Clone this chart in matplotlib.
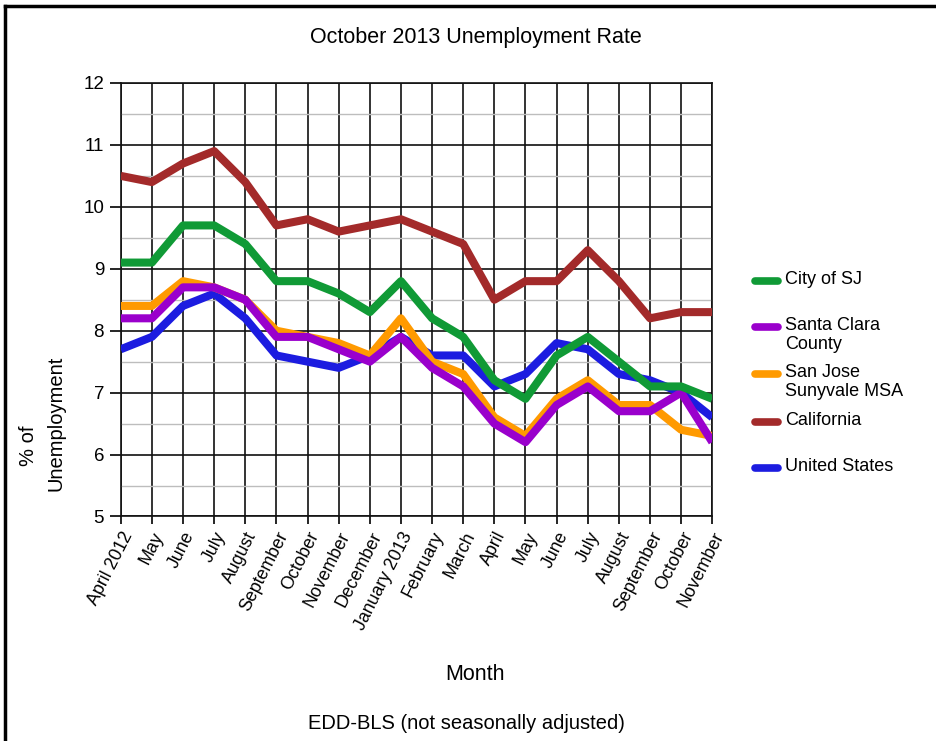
import matplotlib
matplotlib.use("Agg")
import matplotlib.pyplot as plt
from matplotlib.lines import Line2D
from matplotlib.ticker import MultipleLocator

plt.rcParams["font.family"] = ["Liberation Sans", "DejaVu Sans"]

months = ["April 2012", "May", "June", "July", "August", "September", "October",
          "November", "December", "January 2013", "February", "March", "April",
          "May", "June", "July", "August", "September", "October", "November"]

city_sj = [9.1, 9.1, 9.7, 9.7, 9.4, 8.8, 8.8, 8.6, 8.3, 8.8,
           8.2, 7.9, 7.2, 6.9, 7.6, 7.9, 7.5, 7.1, 7.1, 6.9]
santa_clara = [8.2, 8.2, 8.7, 8.7, 8.5, 7.9, 7.9, 7.7, 7.5, 7.9,
               7.4, 7.1, 6.5, 6.2, 6.8, 7.1, 6.7, 6.7, 7.0, 6.2]
sj_msa = [8.4, 8.4, 8.8, 8.7, 8.5, 8.0, 7.9, 7.8, 7.6, 8.2,
          7.5, 7.3, 6.6, 6.3, 6.9, 7.2, 6.8, 6.8, 6.4, 6.3]
california = [10.5, 10.4, 10.7, 10.9, 10.4, 9.7, 9.8, 9.6, 9.7, 9.8,
              9.6, 9.4, 8.5, 8.8, 8.8, 9.3, 8.8, 8.2, 8.3, 8.3]
us = [7.7, 7.9, 8.4, 8.6, 8.2, 7.6, 7.5, 7.4, 7.6, 7.9,
      7.6, 7.6, 7.1, 7.3, 7.8, 7.7, 7.3, 7.2, 7.0, 6.6]

series = [
    ("City of SJ", city_sj, "#109a36"),
    ("Santa Clara\nCounty", santa_clara, "#9a00cc"),
    ("San Jose\nSunyvale MSA", sj_msa, "#ff9a00"),
    ("California", california, "#a32a2a"),
    ("United States", us, "#1c1ce0"),
]
draw_order = [4, 3, 2, 1, 0]

fig = plt.figure(figsize=(9.36, 7.41), dpi=100)
ax = fig.add_axes([0.129, 0.303, 0.632, 0.585])

x = list(range(len(months)))
for rank, i in enumerate(draw_order):
    label, vals, color = series[i]
    ax.plot(x, vals, color=color, lw=5.8, solid_capstyle="butt", zorder=3 + rank)

ax.set_xlim(0, len(months) - 1)
ax.set_ylim(5, 12)
ax.yaxis.set_major_locator(MultipleLocator(1))
ax.yaxis.set_minor_locator(MultipleLocator(0.5))
ax.set_xticks(x)
ax.set_xticklabels(months, rotation=63, ha="right", rotation_mode="anchor", fontsize=12.8)
ax.tick_params(axis="y", which="major", labelsize=13.5, length=8, width=1.2, pad=4)
ax.tick_params(axis="y", which="minor", length=0)
ax.tick_params(axis="x", length=6, width=1.2, pad=3)
ax.grid(True, which="major", axis="both", color="#111111", lw=1.2, zorder=1)
ax.grid(True, which="minor", axis="y", color="#bdbdbd", lw=1.0, zorder=0.5)
for s in ax.spines.values():
    s.set_color("#111111")
    s.set_linewidth(1.2)

fig.text(0.508, 0.949, "October 2013 Unemployment Rate", ha="center", va="center", fontsize=15.5)
fig.text(0.508, 0.09, "Month", ha="center", va="center", fontsize=15.5)
fig.text(0.498, 0.024, "EDD-BLS (not seasonally adjusted)", ha="center", va="center", fontsize=14.5)
fig.text(29 / 936, 1 - 446 / 741, "% of", rotation=90, ha="center", va="center", fontsize=14.5)
fig.text(56 / 936, 1 - 423 / 741, "Unemployment", rotation=90, ha="center", va="center", fontsize=14.5)

# legend drawn by hand so the swatch lines up with the first text line
leg_y = [281, 327, 374, 422, 468]
for (label, vals, color), yy in zip(series, leg_y):
    yf = 1 - yy / 741
    fig.add_artist(Line2D([755 / 936, 778 / 936], [yf, yf], color=color, lw=5.5,
                          solid_capstyle="round", transform=fig.transFigure))
    fig.text(785 / 936, yf + 0.013, label, ha="left", va="top", fontsize=13, linespacing=1.15)

# frame lines at top and left of the screenshot
fig.add_artist(Line2D([5 / 936, 1], [1 - 6 / 741, 1 - 6 / 741], color="black", lw=2.5,
                      transform=fig.transFigure))
fig.add_artist(Line2D([5 / 936, 5 / 936], [0, 1 - 6 / 741], color="black", lw=2.5,
                      transform=fig.transFigure))

fig.savefig("out.png", dpi=100)
